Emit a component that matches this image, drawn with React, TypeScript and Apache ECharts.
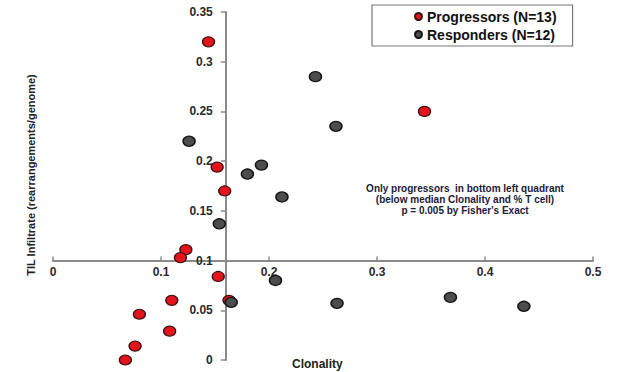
import React, { useEffect, useRef } from "react";
import * as echarts from "echarts";

const progressorsClonality = [0.144, 0.344, 0.152, 0.159, 0.123, 0.118, 0.153, 0.11, 0.163, 0.08, 0.108, 0.076, 0.067];
const progressorsTIL = [0.32, 0.25, 0.194, 0.17, 0.111, 0.103, 0.084, 0.06, 0.06, 0.046, 0.029, 0.014, 0.0];
const respondersClonality = [0.243, 0.262, 0.126, 0.18, 0.193, 0.212, 0.154, 0.206, 0.165, 0.263, 0.368, 0.436];
const respondersTIL = [0.285, 0.235, 0.22, 0.187, 0.196, 0.164, 0.137, 0.08, 0.058, 0.057, 0.063, 0.054];

const seriesNames = ["Progressors (N=13)", "Responders (N=12)"];
const xRange = [0, 0.5];
const yRange = [0, 0.35];
const xInterval = 0.1;
const yInterval = 0.05;
const axisCrossX = 0.16; // clonality where the vertical axis sits
const axisCrossY = 0.1; // TIL where the horizontal axis sits
const xTitle = "Clonality";
const yTitle = "TIL Infiltrate (rearrangements/genome)";
const noteLines = [
  "Only progressors  in bottom left quadrant",
  "(below median Clonality and % T cell)",
  "p = 0.005 by Fisher's Exact",
];

const W = 617;
const H = 372;
const GRID = { left: 53, right: 24, top: 12, bottom: 12 };

export default function App() {
  const ref = useRef<HTMLDivElement>(null);
  useEffect(() => {
    if (!ref.current) return;
    const chart = echarts.init(ref.current, undefined, { renderer: "svg" });
    const gw = W - GRID.left - GRID.right;
    const gh = H - GRID.top - GRID.bottom;
    const xOffset = -((axisCrossY - yRange[0]) / (yRange[1] - yRange[0])) * gh;
    const yOffset = -((axisCrossX - xRange[0]) / (xRange[1] - xRange[0])) * gw;
    const font = "'Liberation Sans', Arial, sans-serif";
    const prog = progressorsClonality.map((x, i) => [x, progressorsTIL[i]]);
    const resp = respondersClonality.map((x, i) => [x, respondersTIL[i]]);
    chart.setOption({
      animation: false,
      backgroundColor: "#ffffff",
      grid: { ...GRID, containLabel: false, outerBoundsMode: "none" },
      legend: {
        orient: "vertical",
        left: 372,
        top: 5,
        padding: [3, 16, 3, 42],
        itemGap: 1,
        itemWidth: 7,
        itemHeight: 7,
        icon: "circle",
        borderColor: "#777",
        borderWidth: 1.2,
        textStyle: { fontFamily: font, fontWeight: "bold", fontSize: 14, color: "#111", lineHeight: 17 },
        data: seriesNames,
      },
      xAxis: {
        type: "value",
        min: xRange[0],
        max: xRange[1],
        interval: xInterval,
        position: "bottom",
        offset: xOffset,
        splitLine: { show: false },
        axisLine: { show: true, onZero: false, lineStyle: { color: "#8a8a8a", width: 2 } },
        axisTick: { show: true, inside: true, length: 4, lineStyle: { color: "#8a8a8a", width: 1.5 } },
        axisLabel: { fontFamily: font, fontWeight: "bold", fontSize: 12, color: "#2a2a2a", margin: 5 },
      },
      yAxis: {
        type: "value",
        min: yRange[0],
        max: yRange[1],
        interval: yInterval,
        position: "left",
        offset: yOffset,
        splitLine: { show: false },
        axisLine: { show: true, onZero: false, lineStyle: { color: "#8a8a8a", width: 2 } },
        axisTick: { show: true, inside: false, length: 5, lineStyle: { color: "#8a8a8a", width: 1.5 } },
        axisLabel: { fontFamily: font, fontWeight: "bold", fontSize: 12, color: "#2a2a2a", margin: 13 },
      },
      series: [
        {
          name: seriesNames[0],
          type: "scatter",
          data: prog,
          symbol: "circle",
          symbolSize: [12, 10],
          itemStyle: { color: "#e3141b", borderColor: "#3a1010", borderWidth: 1.2, opacity: 1 },
          z: 2,
        },
        {
          name: seriesNames[1],
          type: "scatter",
          data: resp,
          symbol: "circle",
          symbolSize: [12, 10],
          itemStyle: { color: "#4d4d4d", borderColor: "#151515", borderWidth: 1.4, opacity: 1 },
          z: 3,
        },
      ],
      graphic: [
        {
          type: "text",
          left: 292,
          top: 358,
          style: { text: xTitle, fontFamily: font, fontWeight: "bold", fontSize: 12, fill: "#222" },
        },
        {
          type: "text",
          x: 31,
          y: 175,
          rotation: Math.PI / 2,
          style: {
            text: yTitle,
            fontFamily: font,
            fontWeight: "bold",
            fontSize: 11,
            fill: "#222",
            align: "center",
            verticalAlign: "middle",
          },
        },
        {
          type: "text",
          x: 465,
          y: 183,
          style: {
            text: noteLines.join("\n"),
            fontFamily: font,
            fontWeight: "bold",
            fontSize: 10,
            lineHeight: 11,
            fill: "#20203a",
            align: "center",
            verticalAlign: "top",
          },
        },
      ],
    });
    return () => chart.dispose();
  }, []);
  return <div ref={ref} style={{ position: "absolute", left: 0, top: 0, width: W, height: H }} />;
}
